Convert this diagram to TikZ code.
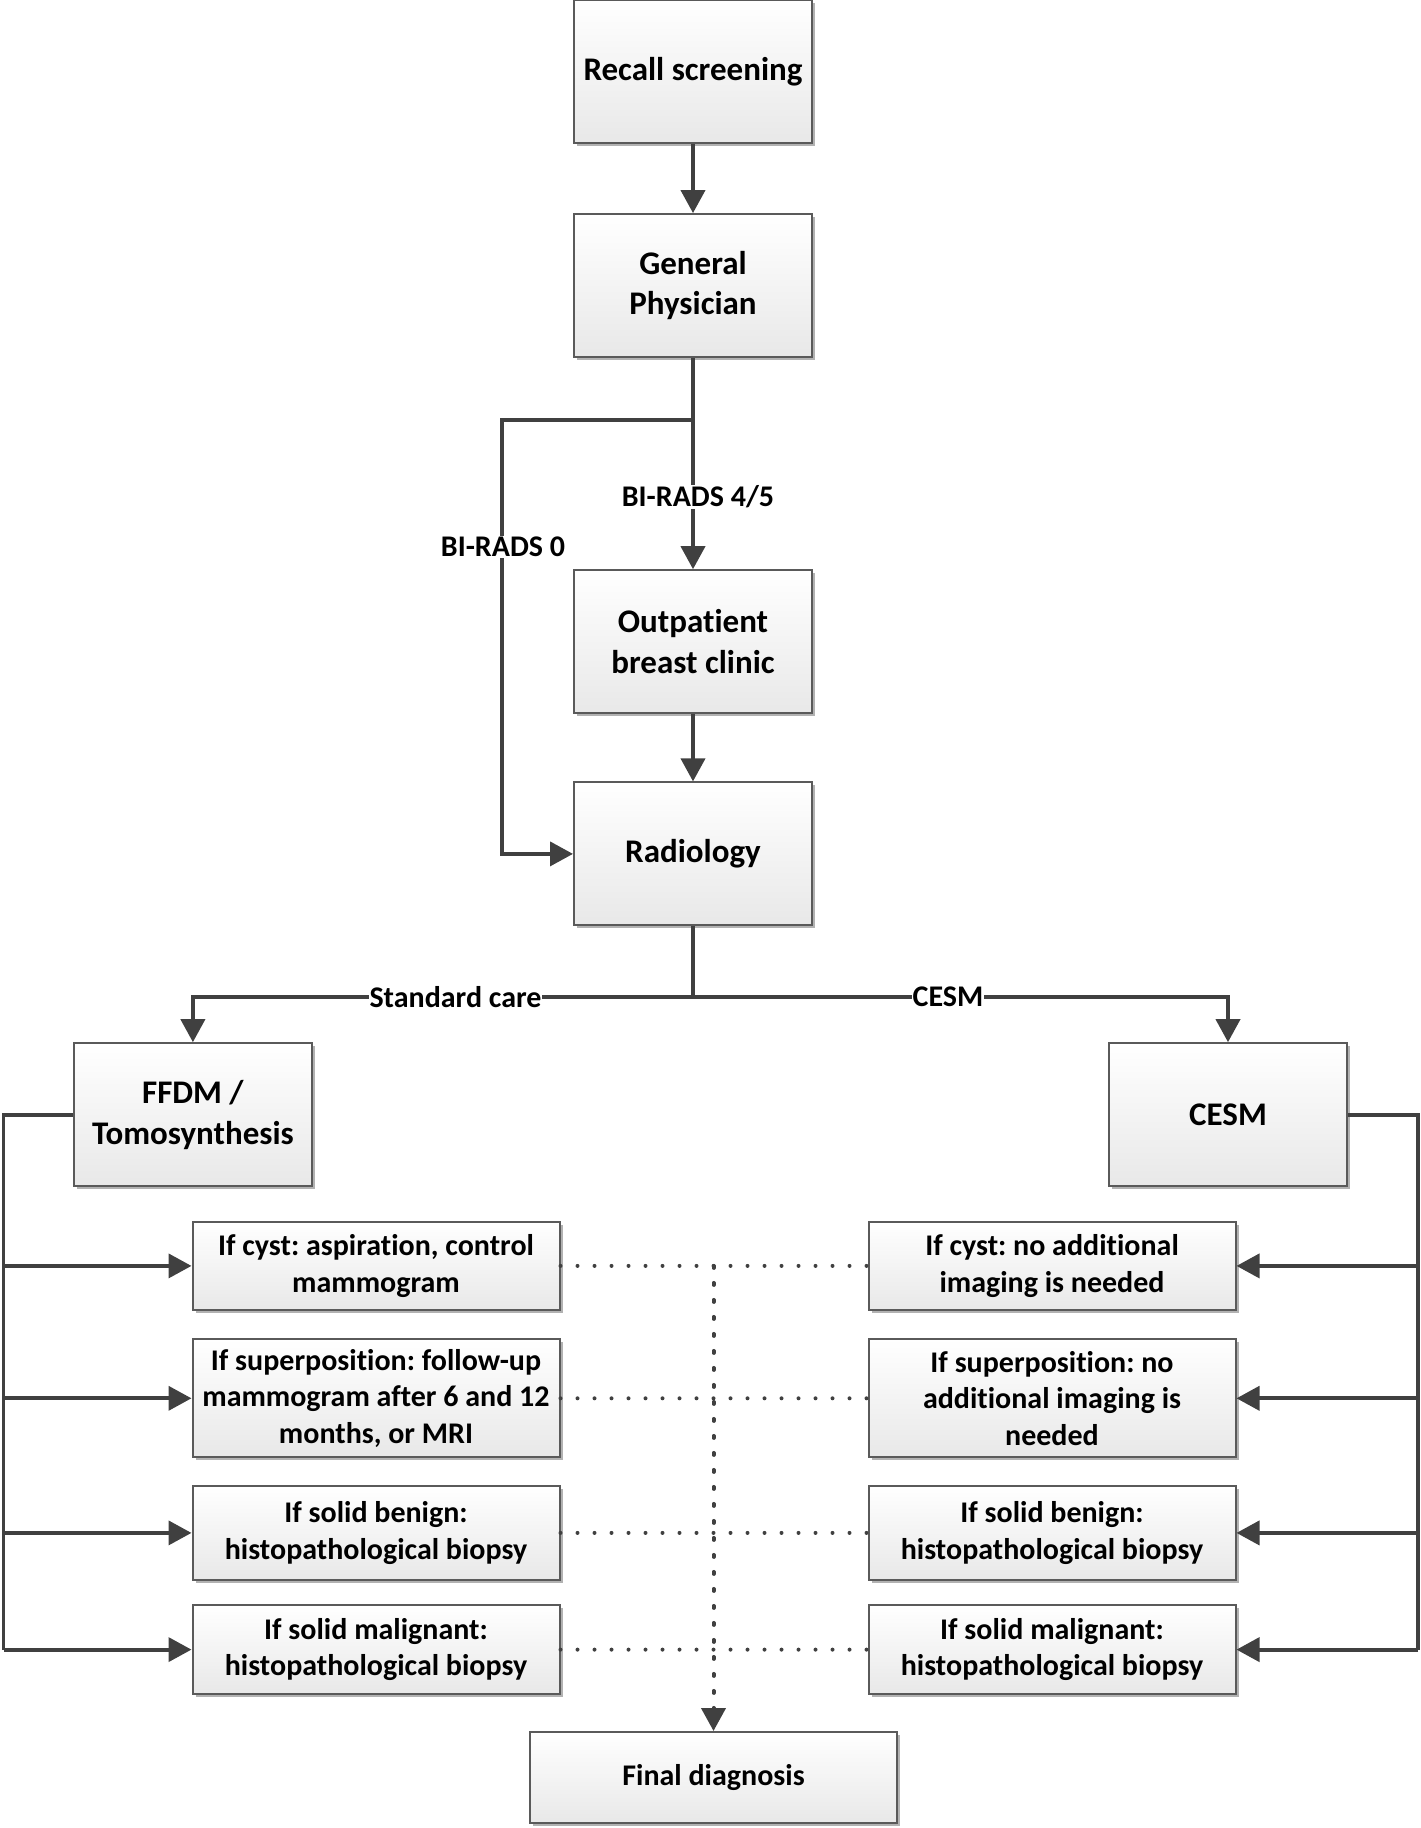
\documentclass[tikz,border=0pt]{standalone}
\usepackage{fontspec}
\setmainfont{Carlito}[Ligatures={NoCommon,NoRare,NoContextual},Contextuals={NoAlternate}]
\usetikzlibrary{arrows.meta,shadows}
\definecolor{ln}{HTML}{404040}
\definecolor{bd}{HTML}{5A5A5A}
\begin{document}
\frenchspacing
\begin{tikzpicture}[x=1pt,y=-1pt,
  basebox/.style={draw=bd, line width=2pt, top color=white, bottom color=black!9,
    drop shadow={shadow xshift=3pt, shadow yshift=-3pt, fill=black!30, opacity=1},
    align=center, inner sep=0pt},
  bigbox/.style={basebox, minimum width=238pt, minimum height=143pt,
    font=\fontsize{33}{40.8}\selectfont\bfseries},
  smallbox/.style={basebox, minimum width=367pt,
    font=\fontsize{30}{36.4}\selectfont\bfseries},
  lab/.style={fill=white, inner sep=1pt, font=\fontsize{30}{36}\selectfont\bfseries},
  ln/.style={draw=ln, line width=3.8pt},
  arr/.style={ln, -{Triangle[length=23pt,width=24pt]}},
  hdots/.style={draw=ln, line width=4pt, line cap=round, dash pattern=on 0pt off 17pt},
  vdots/.style={draw=ln, line width=4pt, line cap=round, dash pattern=on 2pt off 15pt,
    -{Triangle[length=23pt,width=24pt]}}]
\useasboundingbox (0,0) rectangle (1421,1828);

% main column
\node[bigbox] (rec) at (693,71.5) {Recall screening};
\node[bigbox] (gp) at (693,285.6) {General\\Physician};
\node[bigbox] (out) at (693,641.7) {Outpat\kern0pt ient\\breast clinic};
\node[bigbox] (rad) at (693,853.9) {Radiology};
\node[bigbox] (ffdm) at (192.9,1114.7) {FFDM /\\Tomosynthesis};
\node[bigbox] (cesm) at (1228,1114.7) {CESM};

% left boxes
\node[smallbox, minimum height=88.7pt] (l1) at (376,1265.9) {If cyst: aspirat\kern0pt ion, control\\mammogram};
\node[smallbox, minimum height=117.8pt] (l2) at (376,1398.3) {If superposit\kern0pt ion: follow-up\\mammogram after 6 and 12\\months, or MRI};
\node[smallbox, minimum height=93.2pt] (l3) at (376,1532.9) {If solid benign:\\histopathological biopsy};
\node[smallbox, minimum height=88.5pt] (l4) at (376,1649.6) {If solid malignant:\\histopathological biopsy};

% right boxes
\node[smallbox, minimum height=88.7pt] (r1) at (1052,1265.9) {If cyst: no addit\kern0pt ional\\imaging is needed};
\node[smallbox, minimum height=117.8pt] (r2) at (1052,1398.3) {If superposit\kern0pt ion: no\\addit\kern0pt ional imaging is\\needed};
\node[smallbox, minimum height=93.2pt] (r3) at (1052,1532.9) {If solid benign:\\histopathological biopsy};
\node[smallbox, minimum height=88.5pt] (r4) at (1052,1649.6) {If solid malignant:\\histopathological biopsy};

\node[smallbox, minimum height=91pt] (fin) at (713.5,1777.5) {Final diagnosis};

% connectors top
\draw[arr] (rec) -- (gp);
\coordinate (b1) at (693,420);
\coordinate (b0) at (502,420);
\draw[ln] (gp.south) -- (b1);
\draw[arr] (b1) -- (out.north);
\draw[arr] (b1) -- (b0) |- (rad.west);
\node[lab] (lab45) at (698,497) {BI-RADS 4/5};
\node[lab] (lab0) at (503,547) {BI-RADS 0};
\draw[arr] (out) -- (rad);

% split
\coordinate (sp) at (693,997);
\draw[ln] (rad.south) -- (sp);
\draw[arr] (sp) -| (ffdm.north);
\draw[arr] (sp) -| (cesm.north);
\node[lab] (labstd) at (455.5,997) {Standard care};
\node[lab] (labcesm) at (948,997) {CESM};

% buses
\coordinate (lx) at (3.5,0);
\coordinate (rx) at (1418,0);
\draw[ln] (ffdm.west) -| (l4.west -| lx);
\draw[ln] (cesm.east) -| (r4.east -| rx);
\foreach \b in {l1,l2,l3,l4}{\draw[arr] (\b.west -| lx) -- (\b.west);}
\foreach \b in {r1,r2,r3,r4}{\draw[arr] (\b.east -| rx) -- (\b.east);}

% dotted
\foreach \i in {1,2,3,4}{\draw[hdots] (l\i.east) -- (r\i.west);}
\draw[vdots] (l1.east -| fin.north) -- (fin.north);
\end{tikzpicture}
\end{document}
